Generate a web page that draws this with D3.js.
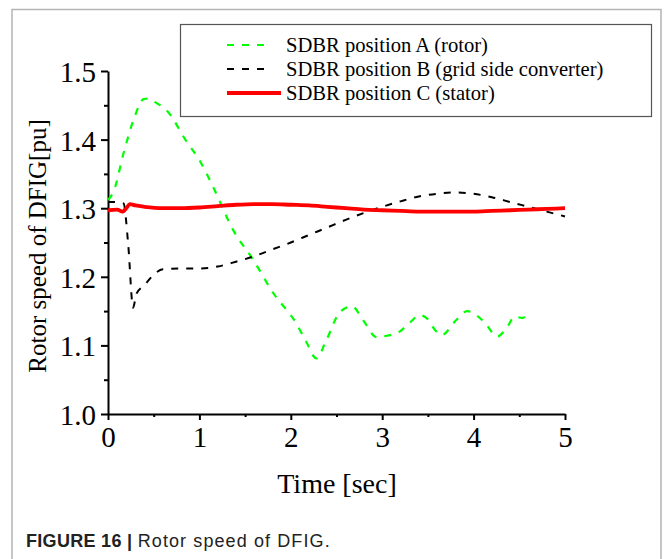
<!DOCTYPE html>
<html>
<head>
<meta charset="utf-8">
<script src="https://cdn.jsdelivr.net/npm/d3@7"></script>
<style>
  html, body { margin: 0; padding: 0; background: #fff; }
  svg { display: block; }
</style>
</head>
<body>
<svg id="chart" width="667" height="559"></svg>
<script>
// Rotor speed of the DFIG (pu) for three SDBR placements
const seriesNames = [
  "SDBR position A (rotor)",
  "SDBR position B (grid side converter)",
  "SDBR position C (stator)"
];

const timeA = [0, 0.06, 0.17, 0.28, 0.39, 0.45, 0.51, 0.64, 0.86, 1.0, 1.15, 1.37, 1.59, 1.81, 2.06, 2.17, 2.28, 2.39, 2.54, 2.67, 2.79, 2.94, 3.05, 3.19, 3.30, 3.41, 3.50, 3.58, 3.65, 3.81, 3.93, 4.11, 4.26, 4.36, 4.45, 4.53, 4.61];
const speedA = [1.312, 1.324, 1.38, 1.429, 1.459, 1.460, 1.455, 1.443, 1.397, 1.370, 1.331, 1.268, 1.2245, 1.176, 1.132, 1.105, 1.081, 1.108, 1.149, 1.157, 1.137, 1.112, 1.114, 1.120, 1.133, 1.144, 1.138, 1.122, 1.115, 1.137, 1.150, 1.135, 1.113, 1.125, 1.142, 1.140, 1.147];

const timeB = [0, 0.1, 0.17, 0.22, 0.275, 0.31, 0.4, 0.5, 0.6, 0.8, 1.0, 1.2, 1.4, 1.6, 1.8, 2.0, 2.2, 2.4, 2.6, 2.8, 3.0, 3.2, 3.4, 3.6, 3.8, 4.0, 4.2, 4.4, 4.6, 4.8, 5.0];
const speedB = [1.309, 1.309, 1.307, 1.249, 1.155, 1.175, 1.188, 1.203, 1.211, 1.212, 1.212, 1.215, 1.222, 1.230, 1.240, 1.250, 1.261, 1.272, 1.283, 1.293, 1.302, 1.310, 1.317, 1.321, 1.323, 1.321, 1.316, 1.309, 1.302, 1.295, 1.288];

const timeC = [0, 0.1, 0.16, 0.2, 0.24, 0.3, 0.4, 0.6, 0.8, 1.0, 1.2, 1.4, 1.6, 1.8, 2.0, 2.2, 2.4, 2.6, 2.8, 3.0, 3.2, 3.4, 3.6, 3.8, 4.0, 4.2, 4.4, 4.6, 4.8, 5.0];
const speedC = [1.297, 1.298, 1.295, 1.300, 1.306, 1.304, 1.302, 1.300, 1.300, 1.301, 1.303, 1.305, 1.306, 1.306, 1.305, 1.304, 1.302, 1.300, 1.298, 1.297, 1.296, 1.295, 1.295, 1.295, 1.295, 1.296, 1.297, 1.298, 1.299, 1.300];

const xTicks = [0, 1, 2, 3, 4, 5];
const yTicks = [1.0, 1.1, 1.2, 1.3, 1.4, 1.5];
const xMinorTicks = [0.5, 1.5, 2.5, 3.5, 4.5];
const yMinorTicks = [1.05, 1.15, 1.25, 1.35, 1.45];

const svg = d3.select("#chart");
const serif = "'Liberation Serif', 'Times New Roman', serif";

// outer frame (open at the bottom)
svg.append("path")
  .attr("d", "M12,570 L12,9.5 L661,9.5 L661,570")
  .attr("fill", "none")
  .attr("stroke", "#b4b4b4")
  .attr("stroke-width", 1.5);

const x = d3.scaleLinear().domain([0, 5]).range([108, 565]);
const y = d3.scaleLinear().domain([1.0, 1.5]).range([414, 71]);

// minor ticks
const xMinor = svg.append("g").attr("transform", "translate(0,414)")
  .call(d3.axisBottom(x).tickValues(xMinorTicks).tickSize(3).tickFormat(""));
const yMinor = svg.append("g").attr("transform", "translate(108,0)")
  .call(d3.axisLeft(y).tickValues(yMinorTicks).tickSize(4).tickFormat(""));
[xMinor, yMinor].forEach(g => {
  g.select(".domain").remove();
  g.selectAll("line").attr("stroke", "#000").attr("stroke-width", 2);
});

// major axes
const xAxis = svg.append("g").attr("transform", "translate(0,414)")
  .call(d3.axisBottom(x).tickValues(xTicks).tickSize(6).tickSizeOuter(0).tickPadding(6)
    .tickFormat(d3.format("d")));
const yAxis = svg.append("g").attr("transform", "translate(108,0)")
  .call(d3.axisLeft(y).tickValues(yTicks).tickSize(7).tickSizeOuter(0).tickPadding(5)
    .tickFormat(d3.format(".1f")));
[xAxis, yAxis].forEach(g => {
  g.select(".domain").attr("stroke", "#000").attr("stroke-width", 2);
  g.selectAll(".tick line").attr("stroke", "#000").attr("stroke-width", 2);
  g.selectAll(".tick text")
    .attr("fill", "#000")
    .style("font-family", serif)
    .style("font-size", "29px");
});
yAxis.selectAll(".tick text").attr("dy", "0.36em");

// axis titles
svg.append("text")
  .attr("x", 337).attr("y", 493)
  .attr("text-anchor", "middle")
  .style("font-family", serif).style("font-size", "28px")
  .text("Time [sec]");
svg.append("text")
  .attr("transform", "translate(46,246) rotate(-90)")
  .attr("text-anchor", "middle")
  .style("font-family", serif).style("font-size", "25px")
  .text("Rotor speed of DFIG[pu]");

// curves
const line = d3.line()
  .x(d => x(d[0]))
  .y(d => y(d[1]))
  .curve(d3.curveMonotoneX);

const dataA = timeA.map((t, i) => [t, speedA[i]]);
const dataB = timeB.map((t, i) => [t, speedB[i]]);
const dataC = timeC.map((t, i) => [t, speedC[i]]);

const styles = [
  { data: dataA, color: "#00ff00", width: 2.2, dash: "7,8" },
  { data: dataB, color: "#000000", width: 2, dash: "7,8" },
  { data: dataC, color: "#ff0000", width: 3.8, dash: null }
];

styles.forEach(s => {
  svg.append("path")
    .datum(s.data)
    .attr("d", line)
    .attr("fill", "none")
    .attr("stroke", s.color)
    .attr("stroke-width", s.width)
    .attr("stroke-dasharray", s.dash)
    .attr("stroke-linejoin", "round");
});

// legend
const legend = svg.append("g");
legend.append("rect")
  .attr("x", 180.5).attr("y", 24.5)
  .attr("width", 471).attr("height", 92)
  .attr("fill", "#fff")
  .attr("stroke", "#555")
  .attr("stroke-width", 1.2);

seriesNames.forEach((name, i) => {
  const s = styles[i];
  const ly = 45 + i * 24;
  const x2 = s.dash ? 271 : 281;
  legend.append("line")
    .attr("x1", 227).attr("x2", x2)
    .attr("y1", ly).attr("y2", ly)
    .attr("stroke", s.color)
    .attr("stroke-width", s.dash ? 2.2 : 3.8)
    .attr("stroke-dasharray", s.dash);
  legend.append("text")
    .attr("x", 286).attr("y", ly + 7)
    .style("font-family", serif).style("font-size", "20.6px")
    .attr("fill", "#000")
    .text(name);
});

// caption
const cap = svg.append("text")
  .attr("x", 26).attr("y", 547)
  .style("font-family", "'Liberation Sans', Arial, sans-serif")
  .style("font-size", "18px")
  .attr("fill", "#222");
cap.append("tspan").style("font-weight", "bold").style("letter-spacing", "0.3px").text("FIGURE 16 | ");
cap.append("tspan").style("letter-spacing", "1.1px").text("Rotor speed of DFIG.");
</script>
</body>
</html>
